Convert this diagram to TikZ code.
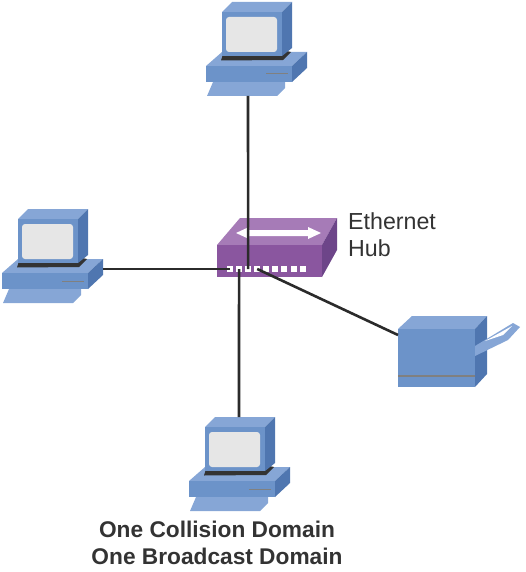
\documentclass[tikz,border=0pt]{standalone}
\usepackage{fontspec}
\setmainfont{Liberation Sans}
\definecolor{blueFront}{HTML}{6C93C9}
\definecolor{blueTop}{HTML}{86A6D6}
\definecolor{blueSide}{HTML}{4F76B0}
\definecolor{screenGrey}{HTML}{E6E6E6}
\definecolor{purpleFront}{HTML}{8A569F}
\definecolor{purpleTop}{HTML}{A67BB7}
\definecolor{purpleSide}{HTML}{6D4589}
\definecolor{cableGrey}{HTML}{2B2B2B}
\tikzset{
	cable/.style = { draw=cableGrey, line width=2.6pt },
	port/.style = { fill=white, minimum width=6pt, minimum height=6pt, inner sep=0pt },
	label/.style = { font=\fontsize{23.2}{27}\selectfont, text=black!80, align=left, inner sep=0pt },
	computer/.pic = {
		% base and keyboard
		\fill[blueTop] (7,82) -- (1,96) -- (71,96) -- (79,88) -- (79,82) -- cycle;
		\fill[blueTop] (0,66) -- (16,52) -- (101,52) -- (86,66) -- cycle;
		\fill[blueFront] (0,66) rectangle (86,82);
		\fill[blueSide] (86,66) -- (101,52) -- (101,68) -- (86,82) -- cycle;
		\draw[gray, line width=1pt] (60,74) -- (82,74);
		\fill[black!80] (15,60.5) -- (77,60) -- (85,52) -- (76,50) -- (17,54) -- cycle;
		% monitor
		\fill[blueTop] (16,12) -- (26,2) -- (86,2) -- (76,12) -- cycle;
		\fill[blueSide] (76,12) -- (86,2) -- (86,48) -- (76,56) -- cycle;
		\fill[blueFront] (16,12) rectangle (76,56);
		\fill[screenGrey, rounded corners=3pt] (20,17) rectangle (71,52);
		\coordinate (-up) at (42,96);
		\coordinate (-right) at (101,62);
		\coordinate (-below) at (50,2);
	}
}
\begin{document}
\begin{tikzpicture}[x=1pt, y=-1pt]
  \useasboundingbox (0,0) rectangle (525,572);

  % hub
  \fill[purpleTop] (217,245) -- (240,218) -- (337,218) -- (322,245) -- cycle;
  \fill[purpleFront] (217,245) rectangle (322,277);
  \fill[purpleSide] (322,245) -- (337,218) -- (337,250) -- (322,277) -- cycle;
  \fill[white] (236,233) -- (249,227) -- (249,230) -- (308,230) -- (308,227)
	-- (321,233) -- (308,239) -- (308,236) -- (249,236) -- (249,239) -- cycle;
  \foreach \i in {1,...,9}
	\node[name=port\i, port] at (220.9+9.08*\i,269) {};

  % devices
  \pic (pctop) at (206,0) {computer};
  \pic (pcleft) at (2,207) {computer};
  \pic (pcbottom) at (189,415) {computer};

  % printer
  \fill[blueTop] (398,329) -- (412,316) -- (487,316) -- (475,329) -- cycle;
  \fill[blueFront] (398,329) rectangle (475,387);
  \fill[blueSide] (475,329) -- (487,316) -- (487,374) -- (475,387) -- cycle;
  \fill[gray] (398,374.5) rectangle (475,376.5);
  \fill[blueTop] (475,356) -- (475,346) -- (513,323) -- (520,327) -- (508,340) -- cycle;
  \fill[white] (485,341) -- (512,326) -- (503,335) -- cycle;
  \coordinate (printerin) at (398,335);

  % cables
  \draw[cable] (pctop-up) -- (port3.center);
  \draw[cable] (pcleft-right) -- (port1.center);
  \draw[cable] (pcbottom-below) -- (port2.center);
  \draw[cable] (printerin) -- (port4.center);

  % labels
  \node[name=hubname, label, anchor=north west] at (348,212) {Ethernet\\Hub};
  \node[name=domains, label, font=\bfseries\fontsize{22.7}{27}\selectfont, align=center, anchor=north] at (217,521)
	{One Collision Domain\\One Broadcast Domain};
\end{tikzpicture}
\end{document}
